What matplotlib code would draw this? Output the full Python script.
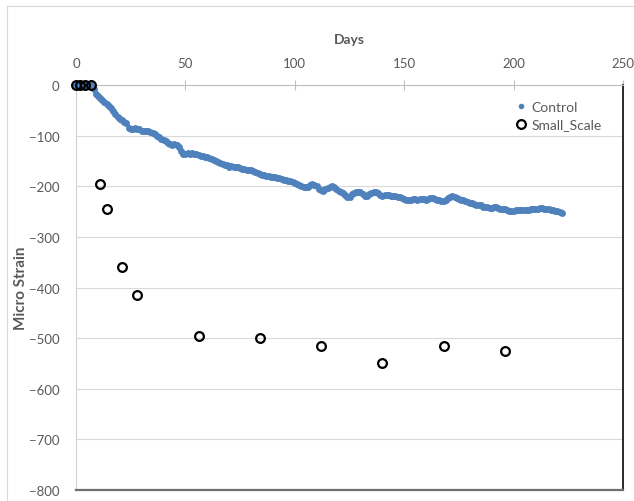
import matplotlib
matplotlib.use('Agg')
import matplotlib.pyplot as plt
from matplotlib.lines import Line2D

plt.rcParams['font.family'] = ['Lato', 'DejaVu Sans']

BLUE = '#4f81bd'
TXT  = '#595959'
GRID = '#d9d9d9'

# Control specimen: one reading per day
control_days = list(range(0, 223))
control_strain = [
    0, 0, 0, 0, 0, 0, 0, 0, -8, -17,
    -22, -26, -30, -33, -37, -41, -46, -52, -58, -63,
    -67, -70, -73, -76, -84, -86, -86, -85, -86, -87,
    -90, -91, -90, -91, -93, -94, -97, -100, -103, -106,
    -108, -111, -114, -117, -118, -116, -118, -123, -130, -136,
    -136, -134, -137, -135, -137, -137, -139, -140, -141, -142,
    -143, -145, -147, -148, -150, -152, -155, -157, -158, -159,
    -161, -160, -161, -162, -161, -163, -165, -166, -167, -167,
    -168, -170, -172, -174, -176, -177, -178, -179, -180, -181,
    -181, -182, -183, -184, -185, -187, -188, -189, -190, -192,
    -193, -195, -197, -199, -201, -202, -201, -198, -196, -197,
    -200, -205, -208, -209, -206, -203, -201, -200, -201, -205,
    -209, -211, -213, -218, -221, -222, -216, -213, -212, -211,
    -212, -216, -219, -219, -215, -213, -212, -212, -214, -217,
    -219, -218, -217, -218, -219, -219, -220, -221, -222, -224,
    -226, -227, -228, -227, -226, -226, -227, -226, -225, -226,
    -227, -225, -224, -224, -226, -227, -228, -229, -230, -228,
    -224, -221, -220, -222, -224, -226, -227, -228, -230, -231,
    -233, -234, -236, -237, -238, -238, -240, -241, -240, -242,
    -243, -241, -240, -242, -244, -244, -245, -246, -248, -248,
    -248, -247, -246, -246, -246, -246, -246, -246, -245, -245,
    -245, -244, -243, -243, -244, -245, -245, -246, -247, -248,
    -249, -250, -252,
]

# Small-scale specimen readings
small_days = [0, 2, 4, 7, 11, 14, 21, 28, 56, 84, 112, 140, 168, 196]
small_strain = [0, 0, 0, 0, -195, -245, -360, -415, -495, -500, -515, -550, -515, -525]

x_ticks = [0, 50, 100, 150, 200, 250]
y_ticks = [0, -100, -200, -300, -400, -500, -600, -700, -800]

fig = plt.figure(figsize=(6.34, 5.02), dpi=100, facecolor='white')
ax = fig.add_axes([76/634, 1 - 491/502, (623 - 76)/634, (491 - 86)/502])

ax.plot(control_days, control_strain, linestyle='none', marker='o', markersize=5,
        color=BLUE, markeredgewidth=0, label='Control', zorder=3, clip_on=False)
ax.plot(small_days, small_strain, linestyle='none', marker='o', markersize=6.3,
        markerfacecolor='none', markeredgecolor='black', markeredgewidth=1.6,
        label='Small_Scale', zorder=4, clip_on=False)

ax.set_xlim(0, 250)
ax.set_ylim(-800, 0)
ax.set_xticks(x_ticks)
ax.set_yticks(y_ticks)

ax.xaxis.tick_top()
ax.xaxis.set_label_position('top')
ax.set_xlabel('Days', fontsize=10, fontweight='bold', color=TXT, labelpad=10)
ax.set_ylabel('Micro Strain', fontsize=11, fontweight='bold', color=TXT)
ax.yaxis.set_label_coords(-0.088, 0.5)

ax.tick_params(axis='x', direction='inout', length=7, width=0.8, color='#bfbfbf',
               labelsize=9.5, labelcolor=TXT, pad=8)
ax.tick_params(axis='y', length=0, labelsize=9.5, labelcolor=TXT, pad=12)

ax.grid(axis='y', color=GRID, linewidth=0.8, zorder=0)
ax.set_axisbelow(True)

ax.spines['top'].set_color('#bfbfbf')
ax.spines['left'].set_color('#d0d0d0')
ax.spines['right'].set_color('#1a1a1a')
ax.spines['right'].set_linewidth(1.3)
ax.spines['bottom'].set_color('#6e6e6e')
ax.spines['bottom'].set_linewidth(1.6)

leg = ax.legend(loc='upper left', bbox_to_anchor=(508/634, 1 - 95/502),
                bbox_transform=fig.transFigure, frameon=False, fontsize=10,
                handletextpad=0.3, handlelength=0.9, labelspacing=0.4,
                borderpad=0)
for t in leg.get_texts():
    t.set_color(TXT)
leg.legend_handles[0].set_markersize(4)

# outer chart-area frame
fig.add_artist(Line2D([7/634, 7/634], [0, 1 - 7/502], transform=fig.transFigure,
                      color=GRID, linewidth=0.8))
fig.add_artist(Line2D([7/634, 1], [1 - 7/502, 1 - 7/502], transform=fig.transFigure,
                      color=GRID, linewidth=0.8))

fig.savefig('out.png', dpi=100, facecolor='white')
